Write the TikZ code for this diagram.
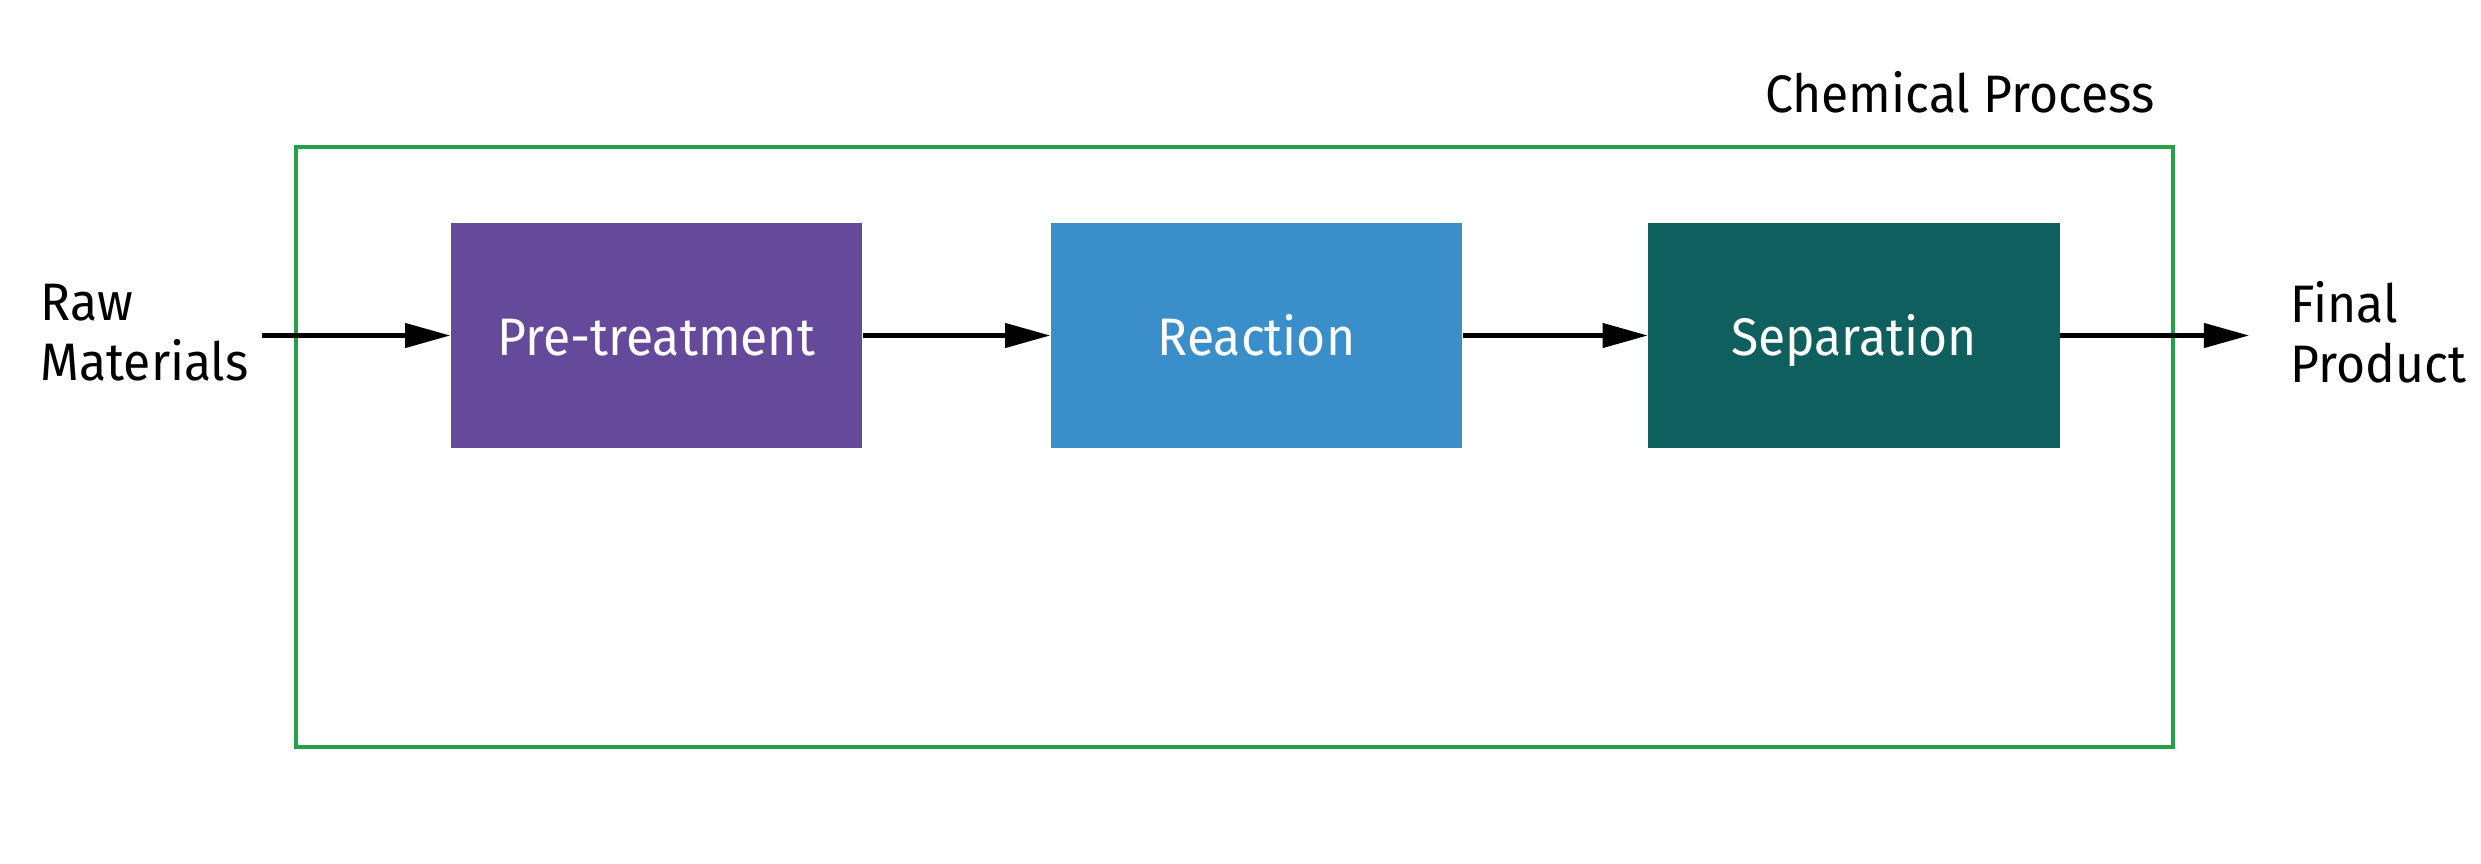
\documentclass[tikz,border=0pt]{standalone}
\usepackage{fontspec}
\setmainfont{Fira Sans}[FakeStretch=0.945]
\usetikzlibrary{arrows.meta}
\definecolor{boxgreen}{HTML}{24A148}
\definecolor{prepurple}{HTML}{65499B}
\definecolor{reactblue}{HTML}{3A8FCB}
\definecolor{septeal}{HTML}{0F5F5E}
\tikzset{
  stage/.style={minimum width=4.11cm, minimum height=2.25cm, inner sep=0pt, draw=none,
    text=white, font=\fontsize{15}{17}\selectfont, text height=11.6pt, text depth=0pt},
  flow/.style={line width=0.042cm, -{Triangle[length=0.45cm, width=0.24cm]}},
  label/.style={font=\fontsize{15}{17}\selectfont, inner sep=0pt, align=left},
}
\begin{document}
\begin{tikzpicture}[x=0.01cm, y=-0.01cm]
\useasboundingbox (0,0) rectangle (2481,863);
\node[draw=boxgreen, line width=0.04cm, minimum width=18.75cm, minimum height=6.00cm, inner sep=0pt] (frame) at (1234.5,447) {};
\node[label, anchor=base east] (title) at (2155,112) {Chemical Process};
\node[stage, fill=prepurple] (pre) at (656.5,335.5) {Pre-treatment};
\node[stage, fill=reactblue] (react) at (1256.5,335.5) {Reaction};
\node[stage, fill=septeal] (sep) at (1854,335.5) {Separation};
\node[label, anchor=west] (raw) at (40,333) {Raw\\Materials};
\node[label, anchor=west] (final) at (2290,332) {Final\\Product};
\coordinate (in) at (262,335.5);
\coordinate (out) at (2249,335.5);
\draw[flow] (in) -- (pre.west);
\draw[flow] (pre.east) -- (react.west);
\draw[flow] (react.east) -- (sep.west);
\draw[flow] (sep.east) -- (out);
\end{tikzpicture}
\end{document}
